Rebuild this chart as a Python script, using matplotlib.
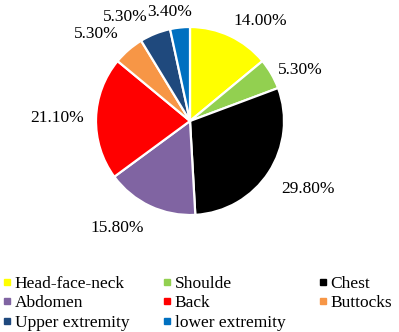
import numpy as np
import matplotlib
matplotlib.use("Agg")
import matplotlib.pyplot as plt
from matplotlib.lines import Line2D

categories = ["Head-face-neck", "Shoulde", "Chest", "Abdomen", "Back",
              "Buttocks", "Upper extremity", "lower extremity"]
values = [14.00, 5.30, 29.80, 15.80, 21.10, 5.30, 5.30, 3.40]
colors = ["#FFFF00", "#92D050", "#000000", "#8064A2", "#FF0000",
          "#F79646", "#1F497D", "#0070C0"]

plt.rcParams['font.family'] = ['Liberation Serif', 'DejaVu Serif']

W, H = 399, 332
fig = plt.figure(figsize=(W / 100, H / 100), dpi=100)
cx, cy, R = 190, 121, 94
ax = fig.add_axes([(cx - R) / W, 1 - (cy + R) / H, 2 * R / W, 2 * R / H])
wedges, _ = ax.pie(values, colors=colors, startangle=90, counterclock=False,
                   radius=1, wedgeprops=dict(edgecolor="white", linewidth=1.6))
ax.set_xlim(-1, 1)
ax.set_ylim(-1, 1)
ax.set_aspect("equal")
ax.axis("off")

for w, v in zip(wedges, values):
    ang = np.deg2rad((w.theta1 + w.theta2) / 2)
    c, s = np.cos(ang), np.sin(ang)
    d = 1.08
    ha = "left" if c > 0.3 else ("right" if c < -0.3 else "center")
    if s > 0.6:
        va = "bottom"
    elif s < -0.4:
        va = "top"
        d = 1.16
    else:
        va = "center"
        if c < 0:
            d = 1.13
    x, y = d * c, d * s
    if ha == "center":
        x -= 0.1
    if ha == "right" and s > 0.6:
        x -= 0.05
        y += 0.02
    ax.text(x, y, f"{v:.2f}%", ha=ha, va=va, fontsize=12.5, clip_on=False)

handles = [Line2D([], [], marker="s", linestyle="none", markersize=4.5,
                  markerfacecolor=col, markeredgecolor=col) for col in colors]
order = [0, 3, 6, 1, 4, 7, 2, 5]
fig.legend([handles[i] for i in order], [categories[i] for i in order],
           ncol=3, loc="upper left", bbox_to_anchor=(0.0, 1 - 272 / H),
           frameon=False, fontsize=12.5, handlelength=0.45, handletextpad=0.2,
           columnspacing=1.95, labelspacing=0.2, borderpad=0, borderaxespad=0.2)

fig.savefig("out.png", dpi=100)
